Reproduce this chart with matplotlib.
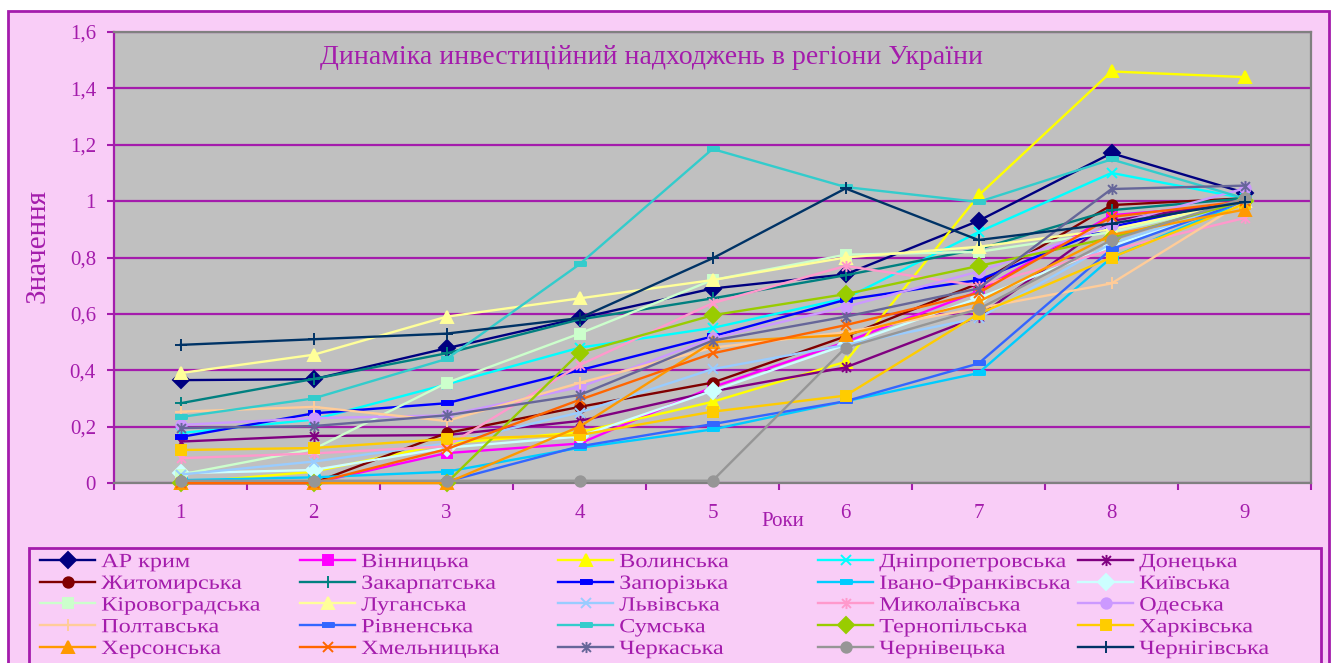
import numpy as np
import matplotlib
matplotlib.use("Agg")
import matplotlib.pyplot as plt
from matplotlib.patches import Rectangle
from matplotlib.path import Path
from matplotlib.transforms import Affine2D
from matplotlib import patheffects

# ---------------- data ----------------
years = [1, 2, 3, 4, 5, 6, 7, 8, 9]
y_ticks = [0, 0.2, 0.4, 0.6, 0.8, 1.0, 1.2, 1.4, 1.6]
y_tick_labels = ['0', '0,2', '0,4', '0,6', '0,8', '1', '1,2', '1,4', '1,6']

regions = ['АР крим', 'Вінницька', 'Волинська', 'Дніпропетровська', 'Донецька',
           'Житомирська', 'Закарпатська', 'Запорізька', 'Івано-Франківська', 'Київська',
           'Кіровоградська', 'Луганська', 'Львівська', 'Миколаївська', 'Одеська',
           'Полтавська', 'Рівненська', 'Сумська', 'Тернопільська', 'Харківська',
           'Херсонська', 'Хмельницька', 'Черкаська', 'Чернівецька', 'Чернігівська']

ar_krym = [0.365, 0.368, 0.478, 0.585, 0.69, 0.74, 0.93, 1.17, 1.03]
vinnytska = [0.0, 0.0, 0.106, 0.14, 0.34, 0.50, 0.68, 0.95, 0.99]
volynska = [0.0, 0.04, 0.14, 0.18, 0.288, 0.43, 1.02, 1.46, 1.44]
dnipropetrovska = [0.177, 0.225, 0.35, 0.48, 0.55, 0.655, 0.89, 1.10, 1.01]
donetska = [0.147, 0.167, 0.17, 0.22, 0.325, 0.41, 0.59, 0.93, 1.0]
zhytomyrska = [0.0, 0.0, 0.177, 0.27, 0.356, 0.52, 0.708, 0.986, 1.01]
zakarpatska = [0.283, 0.369, 0.46, 0.58, 0.655, 0.737, 0.83, 0.968, 1.01]
zaporizka = [0.163, 0.247, 0.283, 0.40, 0.52, 0.65, 0.72, 0.91, 1.0]
ivano_frankivska = [0.01, 0.02, 0.04, 0.125, 0.19, 0.29, 0.39, 0.80, 1.0]
kyivska = [0.035, 0.046, 0.125, 0.165, 0.327, 0.49, 0.656, 0.84, 1.0]
kirovohradska = [0.03, 0.12, 0.355, 0.53, 0.72, 0.81, 0.82, 0.89, 1.0]
luhanska = [0.39, 0.455, 0.59, 0.655, 0.72, 0.80, 0.838, 0.90, 1.0]
lvivska = [0.03, 0.076, 0.14, 0.25, 0.404, 0.49, 0.585, 0.85, 1.0]
mykolaivska = [0.088, 0.105, 0.13, 0.418, 0.638, 0.77, 0.70, 0.826, 0.94]
odeska = [0.206, 0.23, 0.24, 0.34, 0.513, 0.625, 0.75, 0.915, 1.045]
poltavska = [0.253, 0.27, 0.22, 0.355, 0.48, 0.535, 0.62, 0.708, 1.0]
rivnenska = [0.0, 0.0, 0.005, 0.13, 0.209, 0.29, 0.424, 0.83, 1.0]
sumska = [0.234, 0.30, 0.44, 0.776, 1.185, 1.05, 0.997, 1.148, 1.01]
ternopilska = [0.0, 0.0, 0.0, 0.462, 0.595, 0.67, 0.77, 0.87, 1.0]
kharkivska = [0.117, 0.124, 0.156, 0.17, 0.253, 0.31, 0.60, 0.80, 0.99]
khersonska = [0.0, 0.0, 0.0, 0.20, 0.50, 0.525, 0.643, 0.88, 0.97]
khmelnytska = [0.0, 0.0, 0.12, 0.295, 0.46, 0.56, 0.674, 0.944, 1.0]
cherkaska = [0.195, 0.202, 0.24, 0.312, 0.505, 0.59, 0.69, 1.043, 1.055]
chernivetska = [0.008, 0.008, 0.008, 0.008, 0.008, 0.48, 0.617, 0.862, 1.01]
chernihivska = [0.49, 0.51, 0.53, 0.585, 0.797, 1.045, 0.862, 0.92, 0.997]

series_values = [ar_krym, vinnytska, volynska, dnipropetrovska, donetska,
                 zhytomyrska, zakarpatska, zaporizka, ivano_frankivska, kyivska,
                 kirovohradska, luhanska, lvivska, mykolaivska, odeska,
                 poltavska, rivnenska, sumska, ternopilska, kharkivska,
                 khersonska, khmelnytska, cherkaska, chernivetska, chernihivska]

colors = ['#000080', '#FF00FF', '#FFFF00', '#00FFFF', '#800080',
          '#800000', '#008080', '#0000FF', '#00CCFF', '#CCFFFF',
          '#CCFFCC', '#FFFF99', '#99CCFF', '#FF99CC', '#CC99FF',
          '#FFCC99', '#3366FF', '#33CCCC', '#99CC00', '#FFCC00',
          '#FF9900', '#FF6600', '#666699', '#969696', '#003366']

# ---------------- styling ----------------
PURPLE = '#A41CAC'
PINK = '#F9CDF7'
FONT = 'Liberation Serif'
plt.rcParams['font.family'] = [FONT, 'DejaVu Serif']


class Stretch(patheffects.AbstractPathEffect):
    """Widen glyphs horizontally (the reference chart is stretched)."""
    def __init__(self, sx):
        super().__init__()
        self.sx = sx

    def draw_path(self, renderer, gc, tpath, affine, rgbFace=None):
        renderer.draw_path(gc, tpath, Affine2D().scale(self.sx, 1.0) + affine, rgbFace)


star = Path([(-1, -1), (1, 1), (-1, 1), (1, -1), (0, -1.25), (0, 1.25)],
            [Path.MOVETO, Path.LINETO, Path.MOVETO, Path.LINETO, Path.MOVETO, Path.LINETO])
dash = [(-1, -0.38), (1, -0.38), (1, 0.38), (-1, 0.38)]

marker_list = ['D', 's', '^', 'x', star,
               'o', '+', dash, dash, 'D',
               's', '^', 'x', star, 'o',
               '+', dash, dash, 'D', 's',
               '^', 'x', star, 'o', '+']
marker_sizes = {'D': 8, 's': 7, '^': 8, 'x': 7, 'o': 7.5, '+': 8}

W, H = 1333, 663
fig = plt.figure(figsize=(W / 100, H / 100), dpi=100)
fig.patch.set_facecolor('white')

# chart area (outer pink box)
fig.add_artist(Rectangle((8 / W, -0.05), (1329 - 8) / W, (1 - 11 / H) + 0.05,
                         transform=fig.transFigure, facecolor=PINK,
                         edgecolor=PURPLE, linewidth=2.0, zorder=0))

ax = fig.add_axes([114 / W, 1 - 483 / H, (1311 - 114) / W, (483 - 32) / H])
ax.set_facecolor('#C0C0C0')
ax.set_xlim(0.5, 9.5)
ax.set_ylim(0, 1.6)

lines = []
for i, (name, vals, col, mk) in enumerate(zip(regions, series_values, colors, marker_list)):
    if isinstance(mk, str):
        ms = marker_sizes[mk]
    elif isinstance(mk, Path):
        ms = 8
    else:
        ms = 9
    ln, = ax.plot(years, vals, color=col, linewidth=1.7, marker=mk, markersize=ms,
                  markerfacecolor=col, markeredgecolor=col, markeredgewidth=1.4,
                  label=name, zorder=3 + i * 0.01, clip_on=False)
    lines.append(ln)

# y axis
ax.set_yticks(y_ticks)
ax.set_yticklabels(y_tick_labels)
ax.grid(axis='y', color=PURPLE, linewidth=1.6)
ax.set_axisbelow(True)
ax.tick_params(axis='y', direction='out', length=5, width=1.5, color=PURPLE,
               labelcolor=PURPLE, labelsize=15, pad=8)

# x axis: ticks between categories, labels at categories
ax.set_xticks(np.arange(0.5, 10, 1.0))
ax.set_xticklabels([])
ax.set_xticks(years, minor=True)
ax.set_xticklabels([str(y) for y in years], minor=True)
ax.tick_params(axis='x', which='major', direction='out', length=5, width=1.5, color=PURPLE)
ax.tick_params(axis='x', which='minor', length=0, labelcolor=PURPLE, labelsize=15, pad=15)

ax.spines['left'].set_color(PURPLE)
ax.spines['left'].set_linewidth(1.6)
for s in ['top', 'right', 'bottom']:
    ax.spines[s].set_color('#808080')
    ax.spines[s].set_linewidth(1.6)

# texts
fig.text(651 / W, 1 - 57 / H, 'Динаміка инвестиційний надходжень в регіони України',
         ha='center', va='center', fontsize=20, color=PURPLE, family=FONT)
fig.text(37.5 / W, 1 - 246 / H, 'Значення', rotation=90, ha='center', va='center',
         fontsize=21, color=PURPLE, family=FONT)
fig.text(783 / W, 1 - 521 / H, 'Роки', ha='center', va='center',
         fontsize=15, color=PURPLE, family=FONT)

# legend frame
fig.add_artist(Rectangle((29 / W, -0.05), (1321 - 29) / W, (1 - 548 / H) + 0.05,
                         transform=fig.transFigure, facecolor='none',
                         edgecolor=PURPLE, linewidth=2.0, zorder=1))

col_x = [40, 300, 558, 818, 1078]
for c in range(5):
    hs = [lines[c + 5 * r] for r in range(5)]
    lg = fig.legend(handles=hs, labels=[regions[c + 5 * r] for r in range(5)],
                    loc='upper left', bbox_to_anchor=(col_x[c] / W, 1 - 553 / H),
                    frameon=False, borderpad=0, borderaxespad=0,
                    handlelength=2.74, handletextpad=0.3, labelspacing=0.13,
                    prop={'family': FONT, 'size': 14.5})
    for t in lg.get_texts():
        t.set_color(PURPLE)
        t.set_path_effects([Stretch(1.2)])

fig.savefig('out.png', dpi=100, facecolor=fig.get_facecolor())
